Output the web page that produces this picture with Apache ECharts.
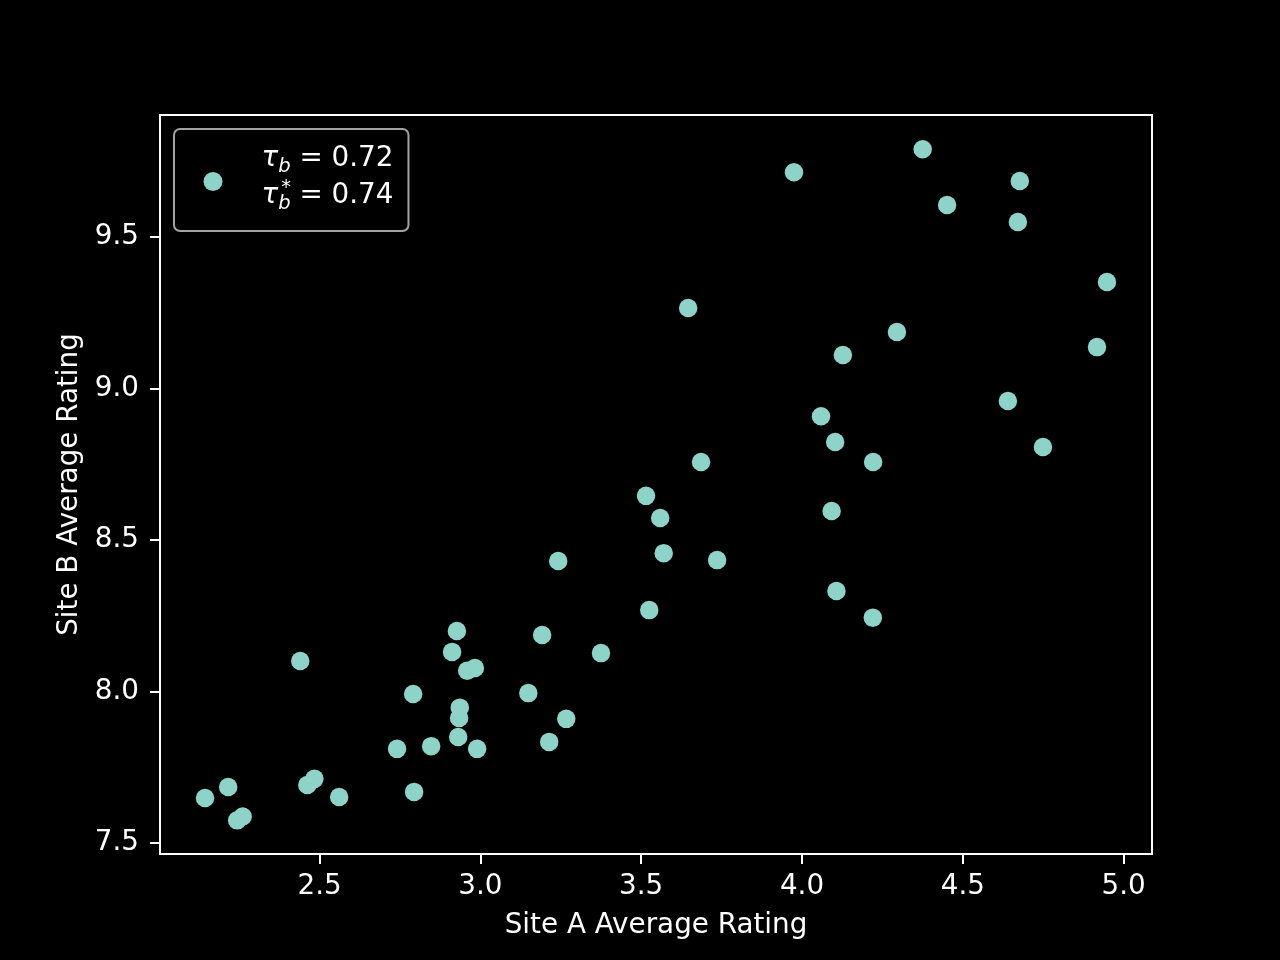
<!DOCTYPE html>
<html>
<head>
<meta charset="utf-8">
<script src="https://cdn.jsdelivr.net/npm/echarts@6/dist/echarts.min.js"></script>
<style>
  html, body { margin: 0; padding: 0; background: #000; }
  #chart { width: 1280px; height: 960px; }
</style>
</head>
<body>
<div id="chart"></div>
<script>
// 两站点评分，每个点 (siteA[i], siteB[i])
const siteA = [
  2.144, 2.216, 2.244, 2.261, 2.440, 2.462, 2.484, 2.561, 2.741, 2.791,
  2.794, 2.847, 2.927, 2.912, 2.959, 2.983, 2.936, 2.934, 2.931, 2.990,
  3.149, 3.192, 3.214, 3.267, 3.242, 3.375, 3.515, 3.525, 3.559, 3.570,
  3.646, 3.686, 3.736, 3.975, 4.059, 4.092, 4.103, 4.107, 4.127, 4.221,
  4.220, 4.295, 4.375, 4.451, 4.640, 4.671, 4.677, 4.749, 4.917, 4.948
];
const siteB = [
  7.648, 7.684, 7.574, 7.587, 8.100, 7.691, 7.711, 7.651, 7.810, 7.991,
  7.668, 7.819, 8.199, 8.130, 8.068, 8.077, 7.946, 7.912, 7.849, 7.810,
  7.994, 8.186, 7.833, 7.909, 8.430, 8.126, 8.645, 8.268, 8.572, 8.456,
  9.265, 8.757, 8.433, 9.713, 8.908, 8.595, 8.823, 8.331, 9.110, 8.757,
  8.243, 9.186, 9.789, 9.605, 8.958, 9.549, 9.684, 8.806, 9.136, 9.351
];

const xTicks = [2.5, 3.0, 3.5, 4.0, 4.5, 5.0];
const yTicks = [7.5, 8.0, 8.5, 9.0, 9.5];

const xLabel = 'Site A Average Rating';
const yLabel = 'Site B Average Rating';
// 图例里的 Kendall tau 值
const tauValues = ['0.72', '0.74'];

const FONT = 'DejaVu Sans';
const FS = 27.8;
const POINT_COLOR = '#8dd3c7';

const chartDom = document.getElementById('chart');
const myChart = echarts.init(chartDom, null, { renderer: 'canvas' });

const points = siteA.map((a, i) => [a, siteB[i]]);

const axisCommon = {
  type: 'value',
  splitLine: { show: false },
  axisLine: { show: true, lineStyle: { color: '#fff', width: 2 } },
  axisTick: { show: true, inside: false, length: 10, lineStyle: { color: '#fff', width: 2 } },
  nameLocation: 'middle',
  nameTextStyle: { color: '#fff', fontFamily: FONT, fontSize: FS }
};

const option = {
  animation: false,
  backgroundColor: '#000',
  grid: {
    left: 160, right: 128, top: 115, bottom: 106,
    show: true, borderColor: '#fff', borderWidth: 2, backgroundColor: 'transparent'
  },
  xAxis: {
    ...axisCommon,
    min: 2.004, max: 5.088,
    name: xLabel, nameGap: 58,
    axisTick: { ...axisCommon.axisTick, customValues: xTicks },
    axisLabel: {
      customValues: xTicks, margin: 19, color: '#fff', fontFamily: FONT, fontSize: FS,
      formatter: v => v.toFixed(1)
    }
  },
  yAxis: {
    ...axisCommon,
    min: 7.463, max: 9.902,
    name: yLabel, nameGap: 74,
    axisTick: { ...axisCommon.axisTick, customValues: yTicks },
    axisLabel: {
      customValues: yTicks, margin: 21, color: '#fff', fontFamily: FONT, fontSize: FS,
      formatter: v => v.toFixed(1)
    }
  },
  legend: {
    left: 174, top: 129,
    orient: 'vertical',
    icon: 'circle',
    itemWidth: 19, itemHeight: 19,
    padding: [15.5, 15, 8.5, 29.5],
    backgroundColor: '#000',
    borderColor: '#a3a3a3', borderWidth: 2, borderRadius: 6,
    // 末尾的空行让图标落在第二行附近，和参考图一致
    formatter: () => tauValues.map(v => '{tau|τ}{sub|b}{eq| = ' + v + '}').join('\n') + '\n{gap| }',
    textStyle: {
      color: '#fff',
      rich: {
        tau: { fontFamily: FONT, fontStyle: 'italic', fontSize: FS, color: '#fff', lineHeight: 37, padding: [0, 0, 0, 34] },
        sub: { fontFamily: FONT, fontStyle: 'italic', fontSize: 19.5, color: '#fff', lineHeight: 26, verticalAlign: 'bottom' },
        eq: { fontFamily: FONT, fontSize: FS, color: '#fff', lineHeight: 37 },
        gap: { fontSize: 8, lineHeight: 9 }
      }
    }
  },
  // tau_b^* 的星号上标
  graphic: [{
    type: 'text', z: 100,
    style: {
      x: 286, y: 188, text: '*', fill: '#fff',
      font: '19.5px "DejaVu Sans"', align: 'center', verticalAlign: 'middle'
    }
  }],
  series: [{
    name: 'tau',
    type: 'scatter',
    symbol: 'circle',
    symbolSize: 18.5,
    itemStyle: { color: POINT_COLOR, opacity: 1 },
    data: points
  }]
};
myChart.setOption(option);
</script>
</body>
</html>
